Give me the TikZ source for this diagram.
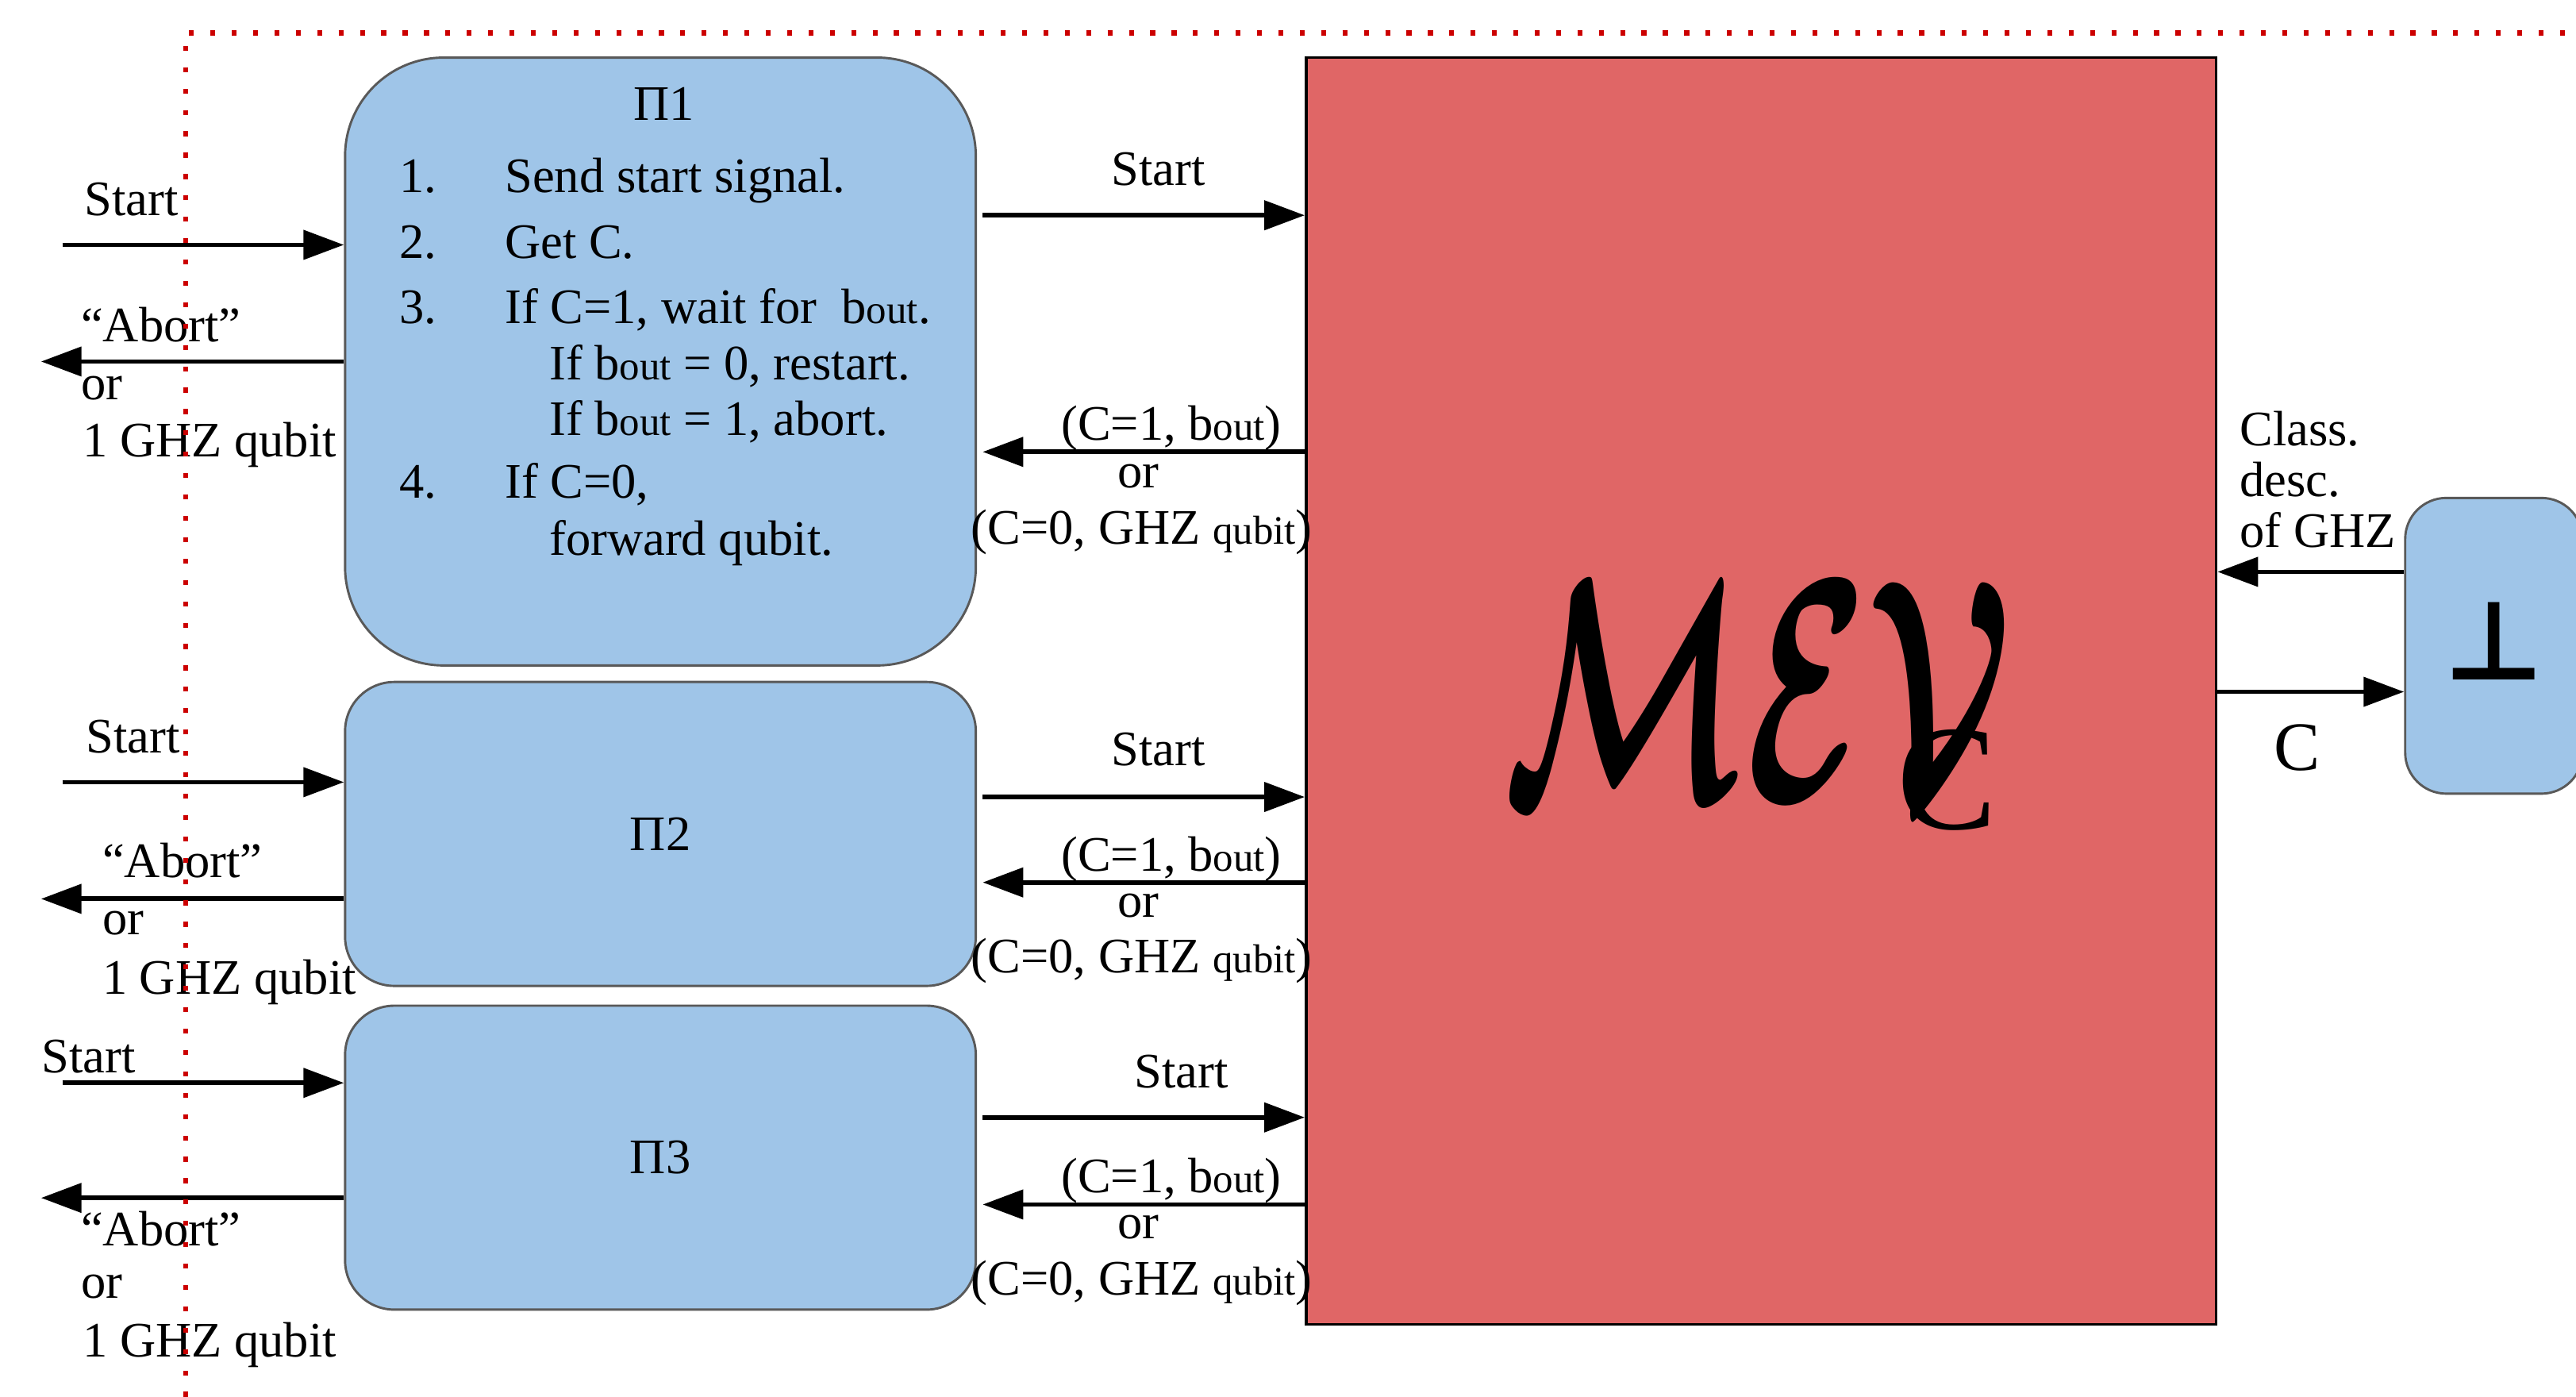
\documentclass[tikz,border=0pt]{standalone}
\usepackage{fontspec}
\setmainfont{Liberation Serif}
\newfontfamily\symbolfont{DejaVu Sans}
\usetikzlibrary{arrows.meta}
\definecolor{boxblue}{HTML}{9FC5E8}
\definecolor{evred}{HTML}{E06666}
\definecolor{edgegray}{HTML}{595959}
\definecolor{dotred}{HTML}{CC0000}
% smaller text used for the "out" and "qubit" parts
\newcommand{\smalltxt}[1]{{\fontsize{14}{16}\selectfont #1}}

\begin{document}
\begin{tikzpicture}[x=0.02cm, y=-0.02cm,
  txt/.style={font=\fontsize{17.2}{21}\selectfont, inner sep=0pt},
  party/.style={draw=edgegray, line width=0.8pt, fill=boxblue, minimum width=7.68cm,
    font=\fontsize{17.2}{21}\selectfont},
  arr/.style={-{Triangle[length=14pt,width=10pt]}, line width=1.6pt},
  boundary/.style={dotred, line width=1.7pt, dash pattern=on 1.7pt off 5.7pt}
]
\useasboundingbox (0,0) rectangle (1568,850);

% parties
\node[party, minimum height=7.4cm, rounded corners=1.2cm] (pi1) at (402,220) {};
\node[party, minimum height=3.7cm, rounded corners=0.6cm] (pi2) at (402,507.5) {Π2};
\node[party, minimum height=3.7cm, rounded corners=0.6cm] (pi3) at (402,704.5) {Π3};

% the resource box
\node[draw=black, line width=1pt, fill=evred, minimum width=11.08cm, minimum height=15.42cm] (mev) at (1072,420.5) {};
\node[inner sep=0pt, anchor=base west] (evlabel) at (915,487)
  {{\boldmath\scalebox{6.1}[11]{$\mathcal{MEV}$}}\kern-40pt\raisebox{-10pt}{\fontsize{52}{52}\selectfont C}};

% the bottom box
\node[draw=edgegray, line width=0.8pt, fill=boxblue, minimum width=2.16cm, minimum height=3.6cm,
  rounded corners=0.5cm] (bot) at (1518,393) {};
\node[inner sep=0pt, font=\symbolfont\bfseries\fontsize{38}{38}\selectfont] (botlabel) at (1518,390) {⊥};

% protocol of the first party
\node[txt, anchor=base] (t0) at (404,73) {Π1};
\node[txt, anchor=base east] (n1) at (266,117) {1.};
\node[txt, anchor=base west] (l1) at (307,117) {Send start signal.};
\node[txt, anchor=base east] (n2) at (266,157) {2.};
\node[txt, anchor=base west] (l2) at (307,157) {Get C.};
\node[txt, anchor=base east] (n3) at (266,197) {3.};
\node[txt, anchor=base west] (l3) at (307,197) {If C=1, wait for \ b\smalltxt{out}.};
\node[txt, anchor=base west] (l3a) at (334,231) {If b\smalltxt{out} = 0, restart.};
\node[txt, anchor=base west] (l3b) at (334,265) {If b\smalltxt{out} = 1, abort.};
\node[txt, anchor=base east] (n4) at (266,303) {4.};
\node[txt, anchor=base west] (l4) at (307,303) {If C=0,};
\node[txt, anchor=base west] (l4a) at (334,338) {forward qubit.};

% free ends of the outer connectors
\coordinate (in1) at (38,149);
\coordinate (out1) at (25,220);
\coordinate (in2) at (38,476);
\coordinate (out2) at (25,547);
\coordinate (in3) at (38,659);
\coordinate (out3) at (25,729);
% heights of the inner connectors
\coordinate (s1) at (0,131);
\coordinate (r1) at (0,275);
\coordinate (s2) at (0,485);
\coordinate (r2) at (0,537);
\coordinate (s3) at (0,680);
\coordinate (r3) at (0,733);
\coordinate (cd) at (0,348);
\coordinate (cc) at (0,421);

% outer connectors
\draw[arr] (in1) -- (in1 -| pi1.west);
\draw[arr] (pi1.west |- out1) -- (out1);
\draw[arr] (in2) -- (in2 -| pi2.west);
\draw[arr] (pi2.west |- out2) -- (out2);
\draw[arr] (in3) -- (in3 -| pi3.west);
\draw[arr] (pi3.west |- out3) -- (out3);

% party <-> resource connectors
\draw[arr, shorten <=2pt] (pi1.east |- s1) -- (mev.west |- s1);
\draw[arr, shorten >=2pt] (mev.west |- r1) -- (pi1.east |- r1);
\draw[arr, shorten <=2pt] (pi2.east |- s2) -- (mev.west |- s2);
\draw[arr, shorten >=2pt] (mev.west |- r2) -- (pi2.east |- r2);
\draw[arr, shorten <=2pt] (pi3.east |- s3) -- (mev.west |- s3);
\draw[arr, shorten >=2pt] (mev.west |- r3) -- (pi3.east |- r3);

% resource <-> bottom box connectors
\draw[arr] (bot.west |- cd) -- (mev.east |- cd);
\draw[arr] (mev.east |- cc) -- (bot.west |- cc);

% outer labels
\node[txt, anchor=base west] at (51,131) {Start};
\node[txt, anchor=base west] at (49,208) {“Abort”};
\node[txt, anchor=base west] at (49,243) {or};
\node[txt, anchor=base west] at (50,278) {1 GHZ qubit};
\node[txt, anchor=base west] at (52,458) {Start};
\node[txt, anchor=base west] at (62,534) {“Abort”};
\node[txt, anchor=base west] at (62,569) {or};
\node[txt, anchor=base west] at (62,605) {1 GHZ qubit};
\node[txt, anchor=base west] at (25,653) {Start};
\node[txt, anchor=base west] at (49,758) {“Abort”};
\node[txt, anchor=base west] at (49,790) {or};
\node[txt, anchor=base west] at (50,826) {1 GHZ qubit};

% inner labels
\node[txt, anchor=base] at (705,113) {Start};
\node[txt, anchor=base] at (713,268) {(C=1, b\smalltxt{out})};
\node[txt, anchor=base] at (693,297) {or};
\node[txt, anchor=base] at (695,331) {(C=0, GHZ \smalltxt{qubit})};
\node[txt, anchor=base] at (705,466) {Start};
\node[txt, anchor=base] at (713,530) {(C=1, b\smalltxt{out})};
\node[txt, anchor=base] at (693,558) {or};
\node[txt, anchor=base] at (695,592) {(C=0, GHZ \smalltxt{qubit})};
\node[txt, anchor=base] at (719,662) {Start};
\node[txt, anchor=base] at (713,726) {(C=1, b\smalltxt{out})};
\node[txt, anchor=base] at (693,754) {or};
\node[txt, anchor=base] at (695,788) {(C=0, GHZ \smalltxt{qubit})};

% labels on the right
\node[txt, anchor=base west] at (1363,271) {Class.};
\node[txt, anchor=base west] at (1363,302) {desc.};
\node[txt, anchor=base west] at (1363,333) {of GHZ};
\node[inner sep=0pt, anchor=base, font=\fontsize{24}{28}\selectfont] at (1398,469) {C};

% dotted boundary
\draw[boundary] (113,850) -- (113,20) -- (1568,20);
\end{tikzpicture}
\end{document}
